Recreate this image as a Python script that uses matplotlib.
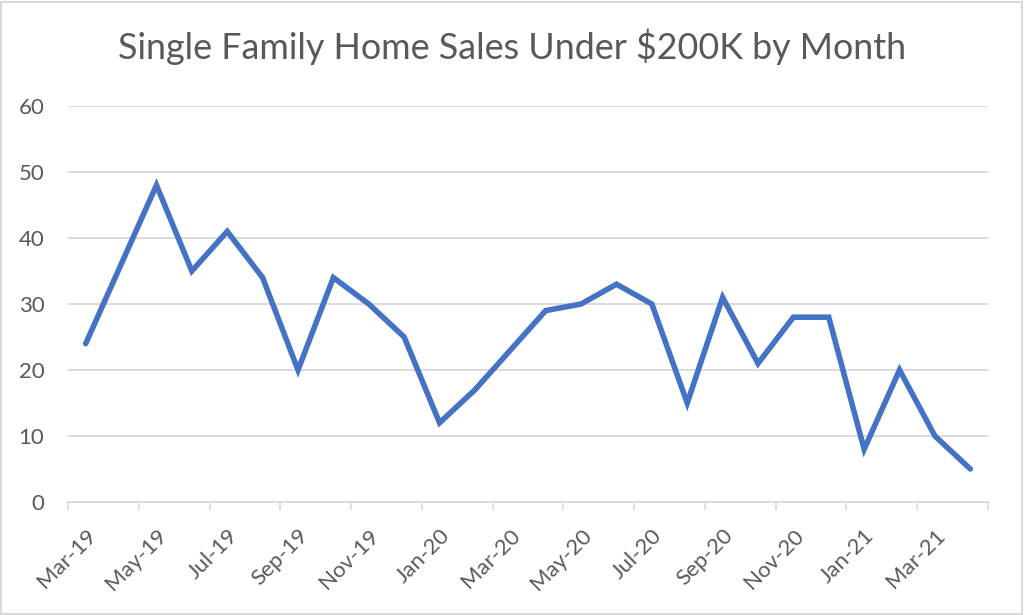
import matplotlib
matplotlib.use("Agg")
import matplotlib.pyplot as plt
from matplotlib.patches import Rectangle

months = ["Mar-19", "Apr-19", "May-19", "Jun-19", "Jul-19", "Aug-19", "Sep-19", "Oct-19",
          "Nov-19", "Dec-19", "Jan-20", "Feb-20", "Mar-20", "Apr-20", "May-20", "Jun-20",
          "Jul-20", "Aug-20", "Sep-20", "Oct-20", "Nov-20", "Dec-20", "Jan-21", "Feb-21",
          "Mar-21", "Apr-21"]
sales = [24, 36, 48, 35, 41, 34, 20, 34, 30, 25, 12, 17, 23, 29, 30, 33, 30, 15, 31, 21,
         28, 28, 8, 20, 10, 5]
y_ticks = [0, 10, 20, 30, 40, 50, 60]
title = "Single Family Home Sales Under $200K by Month"

plt.rcParams['font.family'] = ['Lato', 'DejaVu Sans']
grey = "#595959"

fig = plt.figure(figsize=(10.24, 6.15), dpi=100)
ax = fig.add_axes([68/1024, 1 - 502/615, (988-68)/1024, (502-106)/615])

x = list(range(len(months)))
ax.plot(x, sales, color="#4472C4", linewidth=4.0, solid_joinstyle="miter", solid_capstyle="round", zorder=3)

ax.set_xlim(-0.5, len(months) - 0.5)
ax.set_ylim(0, 60)
ax.set_yticks(y_ticks)
ax.set_yticklabels([str(v) for v in y_ticks])
ax.yaxis.grid(True, color="#D9D9D9", linewidth=1.3)
ax.set_axisbelow(True)

ax.set_xticks(x[::2])
ax.set_xticklabels(months[::2], rotation=45, ha="right", rotation_mode="anchor")
ax.set_xticks([i - 0.5 for i in range(0, len(months) + 1, 2)], minor=True)
ax.tick_params(axis="x", which="major", length=0, pad=17, labelsize=16, labelcolor=grey)
ax.tick_params(axis="x", which="minor", length=6, width=1.2, color="#D9D9D9")
ax.tick_params(axis="y", length=0, pad=17, labelsize=16, labelcolor=grey)

for s in ["top", "right", "left"]:
    ax.spines[s].set_visible(False)
ax.spines["bottom"].set_color("#D9D9D9")
ax.spines["bottom"].set_linewidth(1.3)

fig.text(0.5, 1 - 47/615, title, ha="center", va="center", fontsize=25.8, color=grey)

fig.patches.append(Rectangle((0.001, 0.002), 0.997, 0.995, transform=fig.transFigure,
                             fill=False, edgecolor="#D9D9D9", linewidth=1.5))

fig.savefig("out.png", dpi=100)
